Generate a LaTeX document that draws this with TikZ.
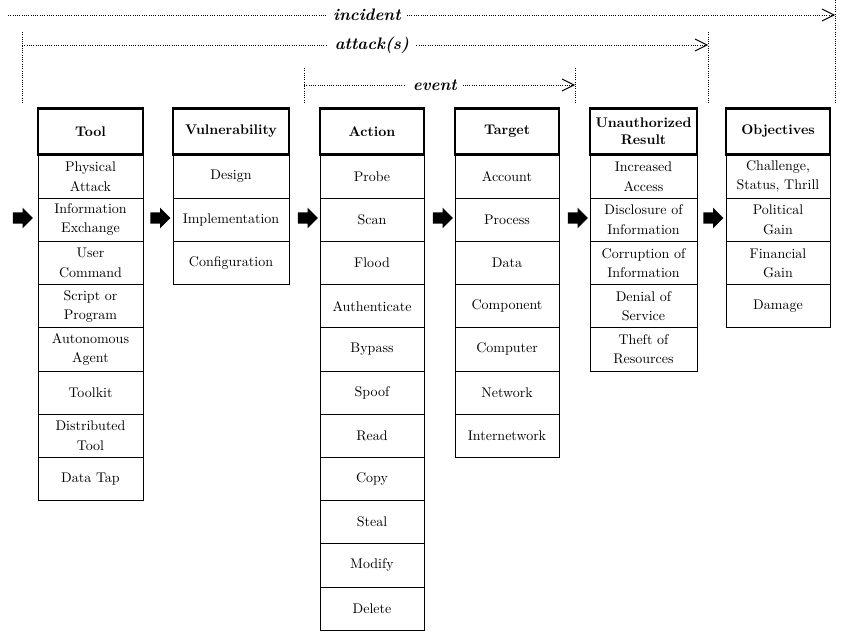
\documentclass[tikz,border=0pt]{standalone}
\usetikzlibrary{arrows,arrows.meta,shapes.arrows}

\tikzset{
  head/.style={draw, line width=2.2pt, minimum height=35pt, inner sep=1pt,
    align=center, font=\fontsize{10.5}{13}\selectfont\bfseries},
  cell/.style={draw, line width=0.6pt, minimum height=32.4pt, inner sep=1pt,
    align=center, font=\fontsize{10.5}{14.5}\selectfont},
  flow/.style={single arrow, fill=black, inner xsep=0pt, inner ysep=4.1pt,
    minimum height=15pt, single arrow head extend=3.4pt},
  span/.style={densely dotted, line width=0.7pt},
  tag/.style={fill=white, inner sep=5pt, font=\fontsize{12.5}{14}\selectfont\bfseries\itshape}
}

\begin{document}
\begin{tikzpicture}[x=0.75pt, y=-0.75pt, >={Straight Barb[length=9pt,width=9pt]}]
\useasboundingbox (0,0) rectangle (851,642);

% column heads
\node [head, minimum width=78.75pt] (tool) at (90.5,131.5) {Tool};
\node [head, minimum width=87pt] (vuln) at (231,131.5) {Vulnerability};
\node [head, minimum width=78pt] (action) at (372,131.5) {Action};
\node [head, minimum width=78pt] (target) at (507,131.5) {Target};
\node [head, minimum width=80.25pt] (result) at (643.5,131.5) {Unauthorized\\Result};
\node [head, minimum width=78pt] (goal) at (778,131.5) {Objectives};

% column cells
\foreach \t [count=\i] in {Physical\\Attack, Information\\Exchange, User\\Command,
  Script or\\Program, Autonomous\\Agent, Toolkit, Distributed\\Tool, Data Tap}
  \node [cell, minimum width=78.75pt] (tool\i) at (90.5,{155+43.2*(\i-0.5)}) {\t};
\foreach \t [count=\i] in {Design, Implementation, Configuration}
  \node [cell, minimum width=87pt] (vuln\i) at (231,{155+43.2*(\i-0.5)}) {\t};
\foreach \t [count=\i] in {Probe, Scan, Flood, Authenticate, Bypass, Spoof,
  Read, Copy, Steal, Modify, Delete}
  \node [cell, minimum width=78pt] (action\i) at (372,{155+43.2*(\i-0.5)}) {\t};
\foreach \t [count=\i] in {Account, Process, Data, Component, Computer,
  Network, Internetwork}
  \node [cell, minimum width=78pt] (target\i) at (507,{155+43.2*(\i-0.5)}) {\t};
\foreach \t [count=\i] in {Increased\\Access, Disclosure of\\Information,
  Corruption of\\Information, Denial of\\Service, Theft of\\Resources}
  \node [cell, minimum width=80.25pt] (result\i) at (643.5,{155+43.2*(\i-0.5)}) {\t};
\foreach \t [count=\i] in {{Challenge,\\Status, Thrill}, Political\\Gain,
  Financial\\Gain, Damage}
  \node [cell, minimum width=78pt] (goal\i) at (778,{155+43.2*(\i-0.5)}) {\t};

% block arrows
\node [flow] (ar0) at (20,218) {};
\node [flow] (ar1) at (157.5,218) {};
\node [flow] (ar2) at (305,218) {};
\node [flow] (ar3) at (440,218) {};
\node [flow] (ar4) at (575,218) {};
\node [flow] (ar5) at (710.5,218) {};

% spans
\coordinate (incL) at (8,15);
\coordinate (incR) at (835,15);
\coordinate (incT) at (835,0);
\coordinate (incB) at (835,104);
\draw [span] (incT) -- (incB);
\draw [span,->] (incL) -- node [tag, pos=0.434] {incident} (incR);

\coordinate (attL) at (22,45);
\coordinate (attR) at (708,45);
\coordinate (attLT) at (22,32);
\coordinate (attLB) at (22,104);
\coordinate (attRT) at (708,32);
\coordinate (attRB) at (708,104);
\draw [span] (attLT) -- (attLB);
\draw [span] (attRT) -- (attRB);
\draw [span,->] (attL) -- node [tag, pos=0.51] {attack(s)} (attR);

\coordinate (evL) at (304,85);
\coordinate (evR) at (575,85);
\coordinate (evLT) at (304,68);
\coordinate (evLB) at (304,104);
\coordinate (evRT) at (575,68);
\coordinate (evRB) at (575,104);
\draw [span] (evLT) -- (evLB);
\draw [span] (evRT) -- (evRB);
\draw [span,->] (evL) -- node [tag, pos=0.483] {event} (evR);
\end{tikzpicture}
\end{document}
